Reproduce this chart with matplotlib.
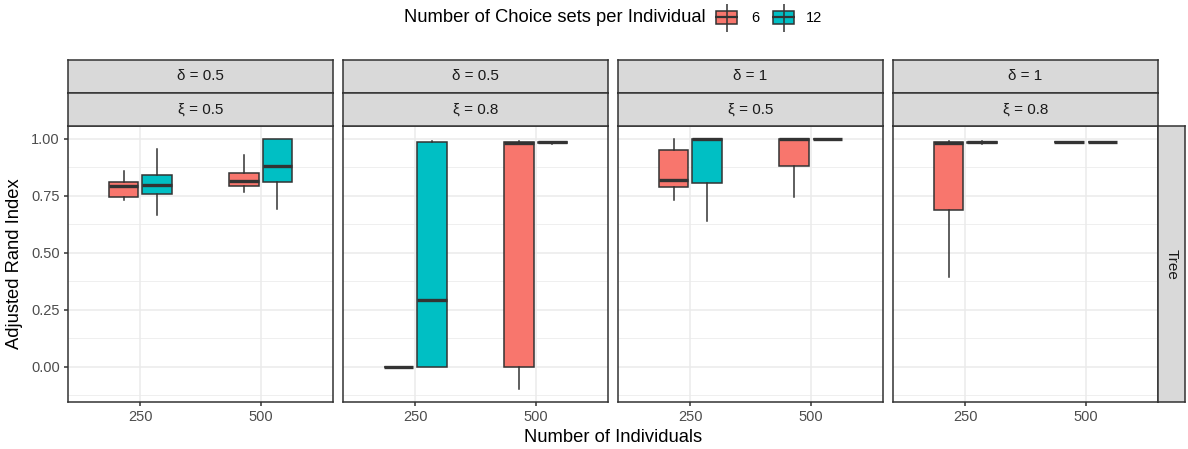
import numpy as np
import matplotlib
matplotlib.use("Agg")
import matplotlib.pyplot as plt
from matplotlib.patches import Rectangle

plt.rcParams['font.family'] = ['Liberation Sans', 'DejaVu Sans']

W, H = 1188, 449

# facet labels
delta_labels = ["δ = 0.5", "δ = 0.5", "δ = 1", "δ = 1"]
xi_labels = ["ξ = 0.5", "ξ = 0.8", "ξ = 0.5", "ξ = 0.8"]
row_label = "Tree"

n_individuals = ["250", "500"]
choice_sets = ["6", "12"]
colors = ["#F8766D", "#00BFC4"]

# box stats per panel: [whislo, q1, med, q3, whishi]; rows = (250/6, 250/12, 500/6, 500/12)
stats_p1 = [[0.729, 0.745, 0.790, 0.809, 0.857],
            [0.665, 0.758, 0.796, 0.840, 0.953],
            [0.764, 0.790, 0.812, 0.849, 0.927],
            [0.693, 0.808, 0.881, 1.000, 1.000]]
stats_p2 = [[0.000, 0.000, 0.000, 0.000, 0.000],
            [0.000, 0.000, 0.293, 0.983, 0.988],
            [-0.100, 0.000, 0.980, 0.983, 0.988],
            [0.975, 0.982, 0.983, 0.984, 0.986]]
stats_p3 = [[0.729, 0.789, 0.817, 0.949, 0.996],
            [0.639, 0.806, 0.998, 1.000, 1.000],
            [0.745, 0.879, 0.998, 1.000, 1.000],
            [1.000, 1.000, 1.000, 1.000, 1.000]]
stats_p4 = [[0.394, 0.686, 0.980, 0.985, 0.990],
            [0.977, 0.982, 0.984, 0.986, 0.990],
            [0.982, 0.983, 0.984, 0.985, 0.986],
            [0.982, 0.983, 0.984, 0.985, 0.986]]
panel_stats = [stats_p1, stats_p2, stats_p3, stats_p4]

y_ticks = [0.0, 0.25, 0.5, 0.75, 1.0]
y_ticklabels = ["0.00", "0.25", "0.50", "0.75", "1.00"]

EDGE = "#333333"
GRID = "#EBEBEB"
STRIP = "#D9D9D9"


def px_axes(fig, x0, y0, x1, y1):
    return fig.add_axes([x0 / W, 1 - y1 / H, (x1 - x0) / W, (y1 - y0) / H])


def strip(fig, x0, y0, x1, y1, text, rotation=0):
    ax = px_axes(fig, x0, y0, x1, y1)
    ax.set_facecolor(STRIP)
    ax.set_xticks([]); ax.set_yticks([])
    for s in ax.spines.values():
        s.set_color(EDGE); s.set_linewidth(1.1)
    ax.text(0.5, 0.5, text, ha="center", va="center", rotation=rotation,
            fontsize=11, color="#1A1A1A", transform=ax.transAxes)
    return ax


fig = plt.figure(figsize=(W / 100, H / 100), dpi=100)

panel_x = [(68, 333), (343, 608), (618, 883), (893, 1158)]
top, bottom = 126, 402
offset, bw = 0.139, 0.245

for i, (x0, x1) in enumerate(panel_x):
    ax = px_axes(fig, x0, top, x1, bottom)
    rows = panel_stats[i]
    for k, st in enumerate(rows):
        xi = k // 2 + 1
        c = k % 2
        pos = xi + (-offset if c == 0 else offset)
        lo, q1, med, q3, hi = st
        ax.bxp([dict(whislo=lo, q1=q1, med=med, q3=q3, whishi=hi, fliers=[])],
               positions=[pos], widths=bw, showcaps=False, showfliers=False,
               patch_artist=True, manage_ticks=False,
               boxprops=dict(facecolor=colors[c], edgecolor=EDGE, linewidth=1.1),
               whiskerprops=dict(color=EDGE, linewidth=1.1),
               medianprops=dict(color=EDGE, linewidth=2.4, solid_capstyle="butt"))

    ax.set_xlim(0.4, 2.6)
    ax.set_ylim(-0.155, 1.055)
    ax.set_yticks(y_ticks)
    ax.set_yticks([0.125, 0.375, 0.625, 0.875, -0.125], minor=True)
    ax.set_xticks([1, 2])
    ax.set_xticklabels(n_individuals)
    ax.grid(True, which="major", color=GRID, linewidth=1.1)
    ax.grid(True, which="minor", axis="y", color=GRID, linewidth=0.55)
    ax.set_axisbelow(True)
    ax.tick_params(which="minor", length=0)
    ax.tick_params(which="major", length=3, width=1.1, color=EDGE,
                   labelsize=10.5, labelcolor="#4D4D4D", pad=3)
    if i == 0:
        ax.set_yticklabels(y_ticklabels)
        ax.set_ylabel("Adjusted Rand Index", fontsize=13.2, labelpad=6)
    else:
        ax.tick_params(axis="y", labelleft=False, length=0)
    for s in ax.spines.values():
        s.set_color(EDGE); s.set_linewidth(1.1)

    strip(fig, x0, 60, x1, 93, delta_labels[i])
    strip(fig, x0, 93, x1, 126, xi_labels[i])

strip(fig, 1158, 126, 1185, 402, row_label, rotation=-90)

fig.text(613 / W, 1 - 437 / H, "Number of Individuals", ha="center", va="center",
         fontsize=13.2)

# legend
fig.text(404 / W, 1 - 18 / H, "Number of Choice sets per Individual", ha="left",
         va="center", fontsize=13.2)
key_x = [(715, 738), (772, 795)]
label_x = [751, 806]
for c, ((kx0, kx1), lx) in enumerate(zip(key_x, label_x)):
    kax = px_axes(fig, kx0, 4, kx1, 32)
    kax.set_xlim(0, 1); kax.set_ylim(0, 1)
    kax.axis("off")
    kax.plot([0.5, 0.5], [0.0, 1.0], color=EDGE, linewidth=1.1)
    kax.add_patch(Rectangle((0.04, 0.3), 0.92, 0.45, facecolor=colors[c],
                            edgecolor=EDGE, linewidth=1.1))
    kax.plot([0.04, 0.96], [0.525, 0.525], color=EDGE, linewidth=1.6)
    fig.text(lx / W, 1 - 18 / H, choice_sets[c], ha="left", va="center",
             fontsize=10.5)

fig.savefig("out.png", dpi=100)
